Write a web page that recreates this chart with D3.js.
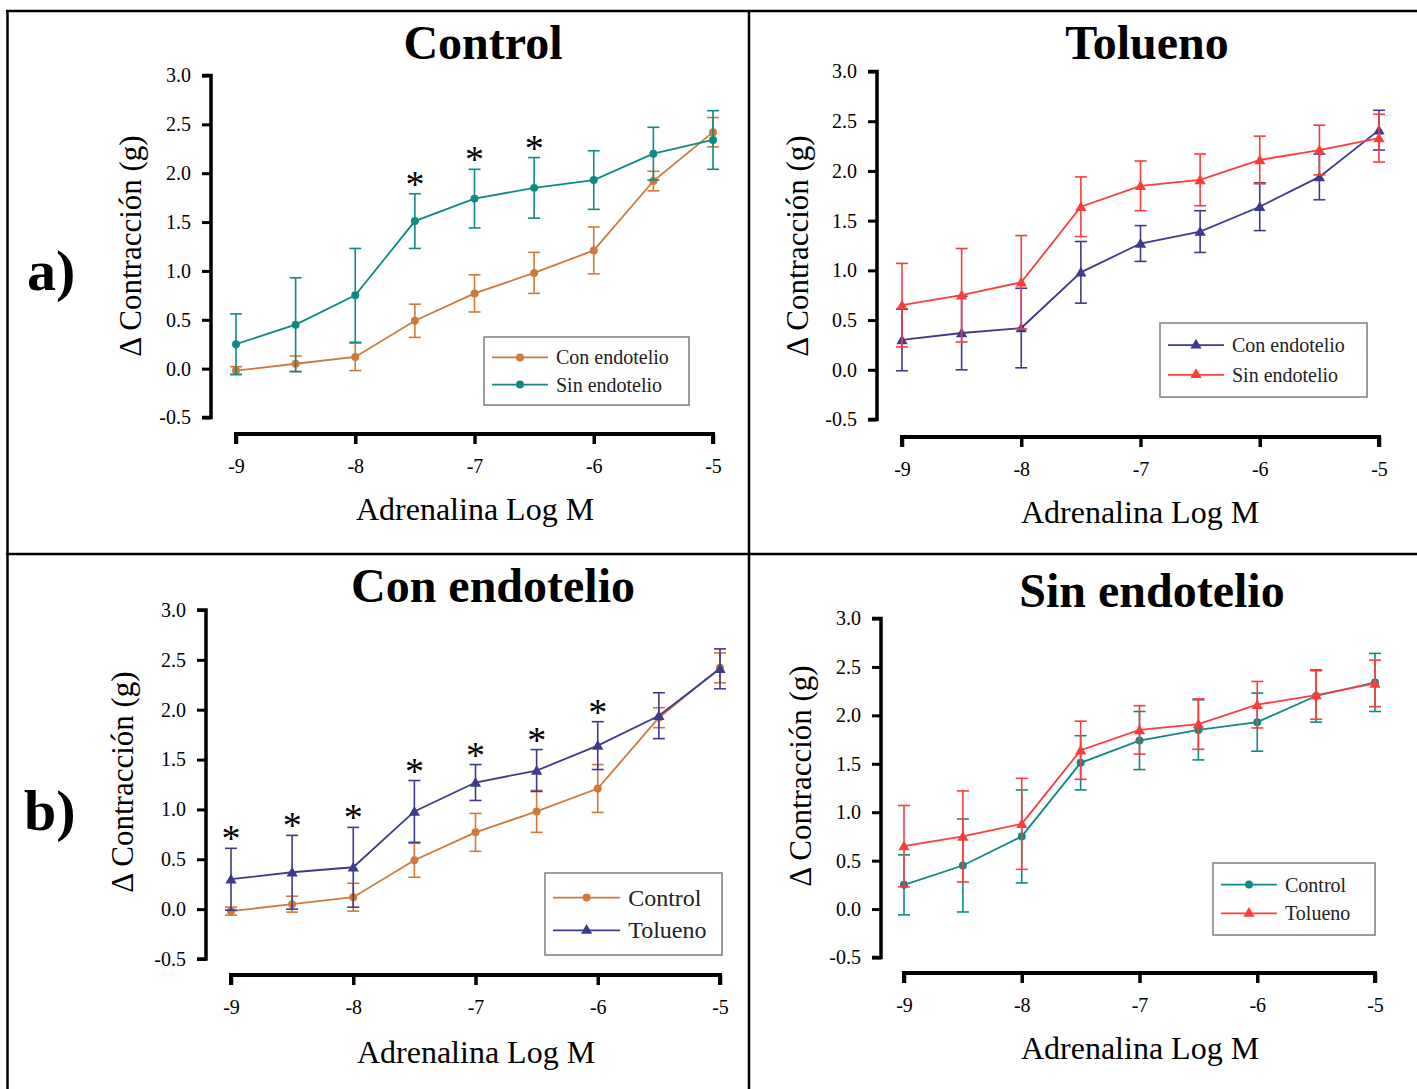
<!DOCTYPE html>
<html>
<head>
<meta charset="utf-8">
<script src="https://cdn.jsdelivr.net/npm/d3@7"></script>
<style>
  body { margin: 0; background: #fff; }
  svg { display: block; font-family: "Liberation Serif", "Times New Roman", serif; }
</style>
</head>
<body>
<div id="chart"></div>
<script>
// dosis de adrenalina (log M)
const doses = [-9, -8.5, -8, -7.5, -7, -6.5, -6, -5.5, -5];
const xTicks = [-9, -8, -7, -6, -5];
const yTicks = [-0.5, 0, 0.5, 1.0, 1.5, 2.0, 2.5, 3.0];

// Control
const ctrlConMean = [-0.02, 0.05, 0.12, 0.49, 0.77, 0.98, 1.21, 1.92, 2.42];
const ctrlConSem  = [0.04, 0.08, 0.14, 0.17, 0.19, 0.21, 0.24, 0.10, 0.15];
const ctrlSinMean = [0.25, 0.45, 0.75, 1.51, 1.74, 1.85, 1.93, 2.20, 2.34];
const ctrlSinSem  = [0.31, 0.48, 0.48, 0.28, 0.30, 0.31, 0.30, 0.27, 0.30];
// Tolueno
const tolConMean = [0.30, 0.37, 0.42, 0.98, 1.27, 1.39, 1.64, 1.94, 2.41];
const tolConSem  = [0.31, 0.37, 0.40, 0.31, 0.18, 0.21, 0.24, 0.23, 0.20];
const tolSinMean = [0.65, 0.75, 0.88, 1.64, 1.85, 1.91, 2.11, 2.21, 2.33];
const tolSinSem  = [0.42, 0.47, 0.47, 0.30, 0.25, 0.26, 0.24, 0.25, 0.24];

// índices con diferencia significativa (*)
const starsControl = [3, 4, 5];
const starsConEndotelio = [0, 1, 2, 3, 4, 5, 6];

const C_ORANGE = '#cf7a3c', C_TEAL = '#0f8a84', C_NAVY = '#3d3b8e', C_RED = '#ff3c3c';
const SERIF = '"Liberation Serif", "Times New Roman", serif';

const W = 1417, H = 1089;
const svg = d3.select('#chart').append('svg').attr('width', W).attr('height', H);

// marcos
const frame = svg.append('g').attr('stroke', '#000').attr('stroke-width', 2.5);
frame.append('line').attr('x1', 6).attr('x2', W).attr('y1', 11).attr('y2', 11);
frame.append('line').attr('x1', 7.5).attr('x2', 7.5).attr('y1', 10).attr('y2', H);
frame.append('line').attr('x1', 749).attr('x2', 749).attr('y1', 10).attr('y2', H);
frame.append('line').attr('x1', 6).attr('x2', W).attr('y1', 554).attr('y2', 554);

svg.append('text').attr('x', 27).attr('y', 290).text('a)')
  .style('font-size', '58px').style('font-weight', 'bold');
svg.append('text').attr('x', 24).attr('y', 830).text('b)')
  .style('font-size', '58px').style('font-weight', 'bold');

function makeSeries(mean, sem, color, shape, name) {
  return { color, shape, name, values: doses.map((d, i) => ({ dose: d, mean: mean[i], sem: sem[i] })) };
}

const panels = [
  {
    title: 'Control', titleX: 483, titleY: 59,
    xRange: [236, 713], yRange: [417.5, 75.5], yAxisX: 211, xAxisY: 434,
    yLabel: [130, 246], xLabel: [475, 520],
    series: [makeSeries(ctrlConMean, ctrlConSem, C_ORANGE, 'circle', 'Con endotelio'),
             makeSeries(ctrlSinMean, ctrlSinSem, C_TEAL, 'circle', 'Sin endotelio')],
    stars: { series: 1, idx: starsControl },
    legend: { x: 484, y: 337, w: 205, h: 68, font: 20 }
  },
  {
    title: 'Tolueno', titleX: 1147, titleY: 59,
    xRange: [902, 1379], yRange: [419.5, 71.5], yAxisX: 877, xAxisY: 437,
    yLabel: [797, 246], xLabel: [1140, 523],
    series: [makeSeries(tolConMean, tolConSem, C_NAVY, 'triangle', 'Con endotelio'),
             makeSeries(tolSinMean, tolSinSem, C_RED, 'triangle', 'Sin endotelio')],
    legend: { x: 1160, y: 323, w: 207, h: 74, font: 20 }
  },
  {
    title: 'Con endotelio', titleX: 493, titleY: 602,
    xRange: [231, 720], yRange: [959, 610], yAxisX: 206, xAxisY: 975,
    yLabel: [122, 782], xLabel: [476, 1063],
    series: [makeSeries(ctrlConMean, ctrlConSem, C_ORANGE, 'circle', 'Control'),
             makeSeries(tolConMean, tolConSem, C_NAVY, 'triangle', 'Tolueno')],
    stars: { series: 1, idx: starsConEndotelio },
    legend: { x: 545, y: 873, w: 177, h: 82, font: 24 }
  },
  {
    title: 'Sin endotelio', titleX: 1152, titleY: 607,
    xRange: [904, 1375], yRange: [957.5, 618.5], yAxisX: 881, xAxisY: 973,
    yLabel: [800, 776], xLabel: [1140, 1059],
    series: [makeSeries(ctrlSinMean, ctrlSinSem, C_TEAL, 'circle', 'Control'),
             makeSeries(tolSinMean, tolSinSem, C_RED, 'triangle', 'Tolueno')],
    legend: { x: 1213, y: 863, w: 162, h: 72, font: 20 }
  }
];

const symCircle = d3.symbol().type(d3.symbolCircle).size(50);
const symTri = d3.symbol().type(d3.symbolTriangle).size(55);

function drawPanel(p) {
  const g = svg.append('g');
  const x = d3.scaleLinear().domain([-9, -5]).range(p.xRange);
  const y = d3.scaleLinear().domain([-0.5, 3.0]).range(p.yRange);

  // título
  g.append('text').attr('x', p.titleX).attr('y', p.titleY)
    .attr('text-anchor', 'middle').text(p.title)
    .style('font-size', '48px').style('font-weight', 'bold');

  // eje Y
  const yAxis = g.append('g')
    .attr('transform', `translate(${p.yAxisX},0)`)
    .call(d3.axisLeft(y).tickValues(yTicks).tickSize(9).tickPadding(11).tickFormat(d => d.toFixed(1)))
    .attr('font-family', SERIF).attr('font-size', 20);
  yAxis.select('.domain').attr('stroke-width', 3.5).attr('d', `M-9,${y(3)}H0V${y(-0.5)}H-9`);
  yAxis.selectAll('.tick line').attr('stroke-width', 3);

  // eje X
  const xAxis = g.append('g')
    .attr('transform', `translate(0,${p.xAxisY})`)
    .call(d3.axisBottom(x).tickValues(xTicks).tickSize(10).tickPadding(15).tickFormat(d => String(d)))
    .attr('font-family', SERIF).attr('font-size', 20);
  xAxis.select('.domain').attr('stroke-width', 4).attr('d', `M${x(-9)},10V0H${x(-5)}V10`);
  xAxis.selectAll('.tick line').attr('stroke-width', 3.5);

  // títulos de ejes
  g.append('text')
    .attr('transform', `translate(${p.yLabel[0]},${p.yLabel[1]}) rotate(-90)`)
    .attr('text-anchor', 'middle').attr('dominant-baseline', 'central')
    .text('Δ Contracción (g)').style('font-size', '31px');
  g.append('text').attr('x', p.xLabel[0]).attr('y', p.xLabel[1])
    .attr('text-anchor', 'middle').text('Adrenalina Log M').style('font-size', '32px');

  const line = d3.line().x(d => x(d.dose)).y(d => y(d.mean));

  p.series.forEach(s => {
    const sg = g.append('g');
    // barras de error
    const eb = sg.selectAll('g.err').data(s.values).enter().append('g')
      .attr('stroke', s.color).attr('stroke-width', 1.6).attr('fill', 'none');
    eb.append('line')
      .attr('x1', d => x(d.dose)).attr('x2', d => x(d.dose))
      .attr('y1', d => y(d.mean - d.sem)).attr('y2', d => y(d.mean + d.sem));
    eb.append('line')
      .attr('x1', d => x(d.dose) - 6).attr('x2', d => x(d.dose) + 6)
      .attr('y1', d => y(d.mean + d.sem)).attr('y2', d => y(d.mean + d.sem));
    eb.append('line')
      .attr('x1', d => x(d.dose) - 6).attr('x2', d => x(d.dose) + 6)
      .attr('y1', d => y(d.mean - d.sem)).attr('y2', d => y(d.mean - d.sem));

    sg.append('path').datum(s.values)
      .attr('fill', 'none').attr('stroke', s.color).attr('stroke-width', 1.8)
      .attr('d', line);

    sg.selectAll('path.mk').data(s.values).enter().append('path')
      .attr('class', 'mk')
      .attr('transform', d => `translate(${x(d.dose)},${y(d.mean) + (s.shape === 'triangle' ? 1 : 0)})`)
      .attr('d', s.shape === 'triangle' ? symTri : symCircle)
      .attr('fill', s.color);
  });

  // asteriscos
  if (p.stars) {
    const s = p.series[p.stars.series];
    g.selectAll('text.star').data(p.stars.idx.map(i => s.values[i])).enter().append('text')
      .attr('class', 'star')
      .attr('x', d => x(d.dose)).attr('y', d => y(d.mean + d.sem) + 3)
      .attr('text-anchor', 'middle').text('*')
      .style('font-size', '38px');
  }

  // leyenda
  const L = p.legend;
  const lg = g.append('g').attr('transform', `translate(${L.x},${L.y})`);
  lg.append('rect').attr('x', 1).attr('y', 1).attr('width', L.w).attr('height', L.h)
    .attr('fill', '#ddd');
  lg.append('rect').attr('width', L.w).attr('height', L.h)
    .attr('fill', '#fff').attr('stroke', '#888').attr('stroke-width', 1.6);
  p.series.forEach((s, i) => {
    const cy = L.h * (i === 0 ? 0.3 : 0.7);
    lg.append('line').attr('x1', 8).attr('x2', 8 + L.font * 2.8)
      .attr('y1', cy).attr('y2', cy).attr('stroke', s.color).attr('stroke-width', 1.8);
    lg.append('path')
      .attr('transform', `translate(${8 + L.font * 1.4},${cy})`)
      .attr('d', s.shape === 'triangle' ? symTri : symCircle)
      .attr('fill', s.color);
    lg.append('text').attr('x', 8 + L.font * 2.8 + 8).attr('y', cy)
      .attr('dominant-baseline', 'central').text(s.name)
      .style('font-size', L.font + 'px').attr('fill', '#222');
  });
}

panels.forEach(drawPanel);
</script>
</body>
</html>
